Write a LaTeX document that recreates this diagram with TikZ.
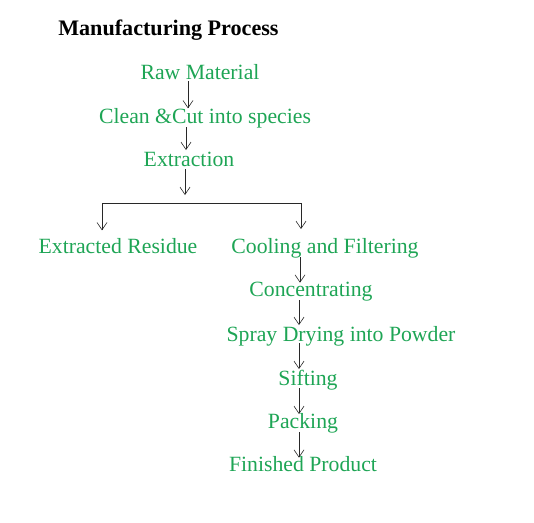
\documentclass[tikz,border=0pt]{standalone}
\usepackage{fontspec}
\setmainfont{Liberation Serif}
\usetikzlibrary{arrows.meta}
\definecolor{stepGreen}{RGB}{30, 165, 85}
\definecolor{arrowGray}{RGB}{40, 40, 40}

\begin{document}
\begin{tikzpicture}[x=0.75pt, y=-0.75pt,
    stage/.style={anchor=base, text=stepGreen, font=\fontsize{16.3}{18}\selectfont, inner sep=1pt},
    flow/.style={draw=arrowGray, line width=0.45pt, -{Straight Barb[length=5.5pt, width=7.5pt]}}]
  \useasboundingbox (0,0) rectangle (534,522);

  \coordinate (T) at (58, 35);
  \coordinate (R) at (200, 79);
  \coordinate (C) at (205, 123);
  \coordinate (E) at (189, 166);
  \coordinate (X) at (118, 253);
  \coordinate (F) at (325, 253);
  \coordinate (N) at (311, 296);
  \coordinate (S) at (341, 341);
  \coordinate (I) at (308, 385);
  \coordinate (P) at (303, 428);
  \coordinate (D) at (303, 471);

  \node[anchor=base west, font=\fontsize{16.6}{18}\selectfont\bfseries, inner sep=0pt] (title) at (T) {Manufacturing Process};

  \node[stage] (raw)     at (R) {Raw Material};
  \node[stage] (clean)   at (C) {Clean \&Cut into species};
  \node[stage] (extract) at (E) {Extraction};
  \node[stage] (residue) at (X) {Extracted Residue};
  \node[stage] (cool)    at (F) {Cooling and Filtering};
  \node[stage] (conc)    at (N) {Concentrating};
  \node[stage] (spray)   at (S) {Spray Drying into Powder};
  \node[stage] (sift)    at (I) {Sifting};
  \node[stage] (pack)    at (P) {Packing};
  \node[stage] (done)    at (D) {Finished Product};

  % arrow columns
  \coordinate (a1) at (188, 0);
  \coordinate (a2) at (186, 0);
  \coordinate (a3) at (185, 0);
  \coordinate (a4) at (300, 0);
  \coordinate (a5) at (299, 0);

  % branch below extraction
  \coordinate (split) at (185, 195);
  \coordinate (barL) at (102, 203);
  \coordinate (barR) at (301, 203);

  \draw[flow] ([yshift=-1.5pt]raw.base -| a1) -- ([yshift=11pt]clean.base -| a1);
  \draw[flow] ([yshift=-3pt]clean.base -| a2) -- ([yshift=12pt]extract.base -| a2);
  \draw[flow] ([yshift=-2.5pt]extract.base -| a3) -- (split);
  \draw[draw=arrowGray, line width=0.45pt] (barL) -- (barR);
  \draw[flow] (barL) -- ([yshift=17pt]residue.base -| barL);
  \draw[flow] (barR) -- ([yshift=18pt]cool.base -| barR);

  \draw[flow] ([yshift=-3pt]cool.base -| a4) -- ([yshift=10pt]conc.base -| a4);
  \draw[flow] ([yshift=-3pt]conc.base -| a5) -- ([yshift=12pt]spray.base -| a5);
  \draw[flow] ([yshift=-1.5pt]spray.base -| a5) -- ([yshift=12pt]sift.base -| a5);
  \draw[flow] ([yshift=-2.5pt]sift.base -| a5) -- ([yshift=10.5pt]pack.base -| a5);
  \draw[flow] ([yshift=-3pt]pack.base -| a5) -- ([yshift=10pt]done.base -| a5);
\end{tikzpicture}
\end{document}
